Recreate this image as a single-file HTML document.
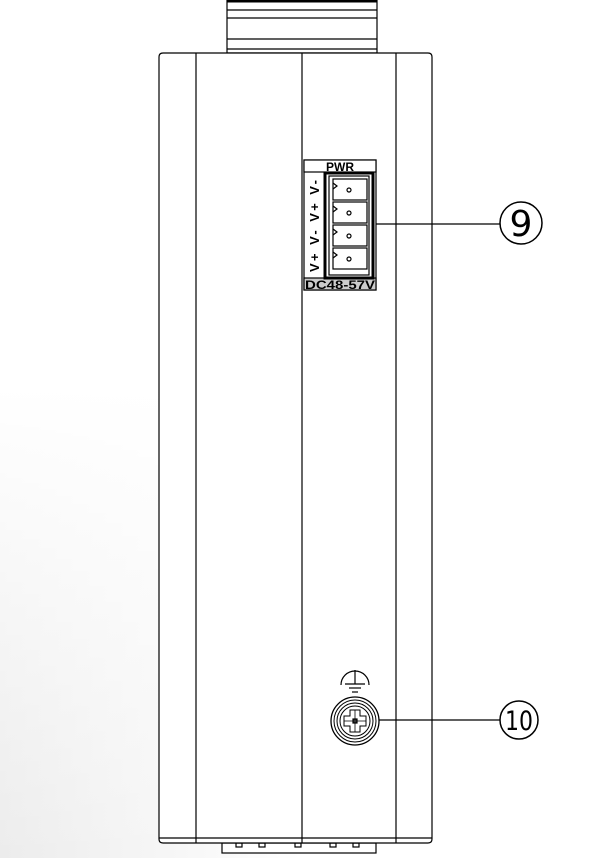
<!DOCTYPE html>
<html><head><style>
html,body{margin:0;padding:0;background:#fff;}
svg{display:block;}
</style></head><body>
<svg width="603" height="858" viewBox="0 0 603 858" xmlns="http://www.w3.org/2000/svg">
<defs>
<linearGradient id="bg" x1="0" y1="0" x2="1" y2="0">
<stop offset="0" stop-color="#ececec"/><stop offset="0.3" stop-color="#f7f7f7"/><stop offset="0.5" stop-color="#fff"/>
</linearGradient>
<linearGradient id="bgv" x1="0" y1="0" x2="0" y2="1">
<stop offset="0" stop-color="#fff" stop-opacity="1"/><stop offset="0.45" stop-color="#fff" stop-opacity="1"/><stop offset="1" stop-color="#fff" stop-opacity="0"/>
</linearGradient>
</defs>
<rect width="603" height="858" fill="url(#bg)"/>
<rect width="603" height="858" fill="url(#bgv)"/>
<g fill="none" stroke="#000" stroke-width="1.2">
<rect x="227" y="0" width="150" height="53" fill="#fff"/>
<line x1="227" y1="1" x2="377" y2="1" stroke-width="3"/>
<line x1="227" y1="10" x2="377" y2="10"/>
<line x1="227" y1="18" x2="377" y2="18"/>
<line x1="227" y1="39" x2="377" y2="39"/>
<line x1="227" y1="49" x2="377" y2="49"/>
<rect x="222" y="843" width="154" height="10" fill="#fff"/>
<rect x="236" y="843" width="6" height="4"/><rect x="259" y="843" width="6" height="4"/><rect x="295" y="843" width="6" height="4"/><rect x="330" y="843" width="6" height="4"/><rect x="353" y="843" width="6" height="4"/>
<path d="M163 53 H428 Q432 53 432 57 V839 Q432 843 428 843 H163 Q159 843 159 839 V57 Q159 53 163 53 Z" fill="#fff"/>
<line x1="196" y1="53" x2="196" y2="843"/>
<line x1="302" y1="53" x2="302" y2="843"/>
<line x1="396" y1="53" x2="396" y2="843"/>
<line x1="159" y1="838" x2="432" y2="838"/>
<rect x="304" y="160" width="72" height="130" fill="#fff"/>
<rect x="304" y="160" width="72" height="12" fill="#fff"/>
<rect x="304" y="278" width="72" height="12" fill="#ccc"/>
<rect x="325" y="173" width="48" height="105" stroke-width="3"/>
<rect x="329" y="176" width="40" height="99"/>
<g>
<rect x="333" y="179" width="34" height="21"/>
<rect x="333" y="202" width="34" height="21"/>
<rect x="333" y="225" width="34" height="21"/>
<rect x="333" y="248" width="34" height="21"/>
<path d="M333 183 l4 3 -4 3 M333 206 l4 3 -4 3 M333 229 l4 3 -4 3 M333 252 l4 3 -4 3"/>
<circle cx="349" cy="190" r="2"/><circle cx="349" cy="213" r="2"/><circle cx="349" cy="236" r="2"/><circle cx="349" cy="259" r="2"/>
</g>
<line x1="376" y1="224" x2="500" y2="224"/>
<circle cx="521" cy="223" r="21" stroke-width="1.5"/>
<path d="M341 685 A14 14 0 0 1 369 685"/>
<line x1="355" y1="670" x2="355" y2="684"/>
<line x1="345" y1="684" x2="365" y2="684"/>
<line x1="349" y1="688" x2="361" y2="688"/>
<line x1="352" y1="692" x2="358" y2="692"/>
<circle cx="355" cy="721" r="24" stroke-width="1.3"/>
<circle cx="355" cy="721" r="21" stroke-width="1"/>
<circle cx="355" cy="721" r="18" stroke-width="1"/>
<circle cx="355" cy="721" r="15" stroke-width="1"/>
<path d="M350 710 h10 v6 h6 v10 h-6 v6 h-10 v-6 h-6 v-10 h6 z" stroke-width="1"/>
<line x1="344" y1="721" x2="366" y2="721" stroke-width="0.8"/><line x1="355" y1="710" x2="355" y2="732" stroke-width="0.8"/>
<rect x="353" y="719" width="4" height="4" fill="#333"/>
<line x1="379" y1="720" x2="500" y2="720"/>
<circle cx="519" cy="720" r="19" stroke-width="1.5"/>
</g>
<g font-family="Liberation Sans, sans-serif" font-weight="bold" fill="#000">
<text x="340" y="171" font-size="12" text-anchor="middle">PWR</text>
<text x="340" y="289" font-size="12" text-anchor="middle" textLength="70" lengthAdjust="spacingAndGlyphs">DC48-57V</text>
<text transform="translate(319,272) rotate(-90)" font-size="13" textLength="92" lengthAdjust="spacing">V+ V- V+ V-</text>
</g>
<g font-family="DejaVu Sans, sans-serif" fill="#000">
<text x="521" y="236" font-size="36" text-anchor="middle">9</text>
<text x="519" y="730" font-size="27" text-anchor="middle" textLength="28" lengthAdjust="spacingAndGlyphs">10</text>
</g>
</svg>
</body></html>
